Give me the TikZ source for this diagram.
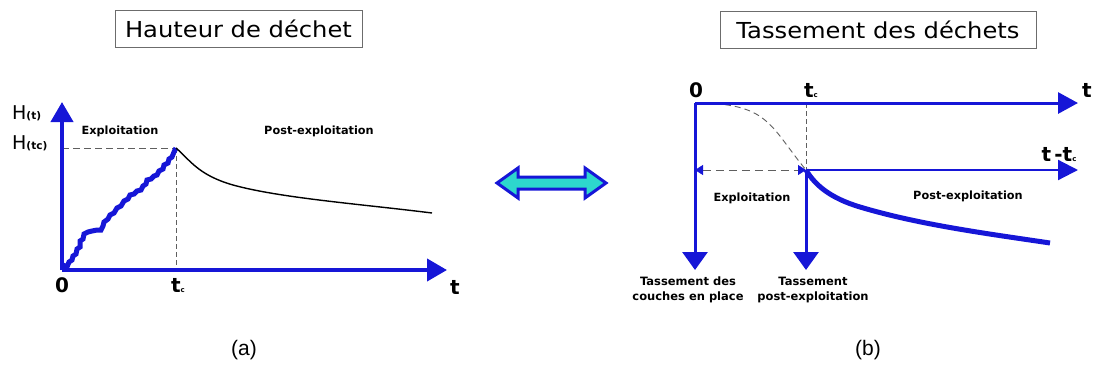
\documentclass[tikz,border=0pt]{standalone}
\usepackage{fontspec}
\setmainfont{DejaVu Sans}
\newfontfamily\titlefont[FakeStretch=1.1]{DejaVu Sans}
\newfontfamily\capfont{Liberation Sans}
\usetikzlibrary{arrows.meta}
\definecolor{axisblue}{RGB}{22,22,215}
\definecolor{arrowcyan}{RGB}{45,215,205}
\definecolor{guidegray}{RGB}{95,95,95}

\begin{document}
\begin{tikzpicture}[x=1pt,y=-1pt,
  titlebox/.style={draw=gray!85!black, line width=0.9pt, inner sep=0pt,
    font=\titlefont\fontsize{22}{22}\selectfont},
  axis/.style={draw=axisblue, line width=4pt,
    -{Triangle[length=20pt,width=22pt]}},
  thinaxis/.style={draw=axisblue, line width=3pt,
    -{Triangle[length=20pt,width=21pt]}},
  downaxis/.style={draw=axisblue, line width=3pt,
    -{Triangle[length=18pt,width=25pt]}},
  guide/.style={draw=guidegray, line width=0.9pt, dash pattern=on 7pt off 4pt},
  vguide/.style={draw=guidegray, line width=0.7pt, dash pattern=on 5pt off 3pt},
  phase/.style={font=\bfseries\fontsize{11.3}{13}\selectfont, inner sep=0pt},
  tick/.style={font=\bfseries\fontsize{20}{20}\selectfont, inner sep=0pt},
  caption/.style={font=\capfont\fontsize{21}{21}\selectfont, inner sep=0pt},
]
\useasboundingbox (0,0) rectangle (1093,365);

% ---------- (a) Hauteur de dechet ----------
\node[titlebox, minimum width=247pt, minimum height=37pt] (titleA) at (238.5,29) {Hauteur de déchet};

\coordinate (Ao)  at (62,270);
\coordinate (Ay)  at (62,102);
\coordinate (Ax)  at (447,270);
\coordinate (Apk) at (176,148);
\coordinate (Ahy) at (62,148);
\coordinate (Atc) at (176,270);
\coordinate (Aend) at (432,213);

\draw[guide] (Ahy) -- (Apk);
\draw[vguide] (Apk) -- (Atc);

% waste height: irregular filling, then settlement after closure
\draw[axisblue, line width=5pt, line join=miter, miter limit=2]
  (Ao) -- (65,266) -- (67,267) -- (69,262) -- (72,260) -- (73,256) -- (76,254)
  -- (77,249) -- (80,247) -- (80,241) -- (83,239) -- (84,234) -- (88,232)
  -- (92,231) -- (97,230) -- (101,230) -- (103,226) -- (104,222) -- (108,219)
  -- (110,215) -- (114,213) -- (117,208) -- (121,206) -- (124,201) -- (128,199)
  -- (130,195) -- (134,194) -- (137,191) -- (141,190) -- (143,186) -- (146,184)
  -- (147,180) -- (151,179) -- (154,176) -- (157,175) -- (159,171) -- (163,169)
  -- (164,165) -- (168,163) -- (169,159) -- (172,157) -- (174,152) -- (Apk);
\draw[black, line width=1.4pt] (Apk)
  .. controls (190,160) and (198,175) .. (233,185)
  .. controls (280,198) and (360,204) .. (Aend);

\draw[axis] (Ao) -- (Ay);
\draw[axis] (Ao) -- (Ax);

\node[anchor=base west, inner sep=0pt] (Ht) at (12,119)
  {\fontsize{19}{19}\selectfont H\bfseries\fontsize{10.5}{10}\selectfont(t)};
\node[anchor=base west, inner sep=0pt] (Htc) at (12,149)
  {\fontsize{19}{19}\selectfont H\bfseries\fontsize{10.5}{10}\selectfont(tc)};
\node[tick, anchor=base] (zeroA) at (62,292) {0};
\node[tick, anchor=base] (tcA) at (178,292) {t{\fontsize{7}{7}\selectfont c}};
\node[tick, anchor=base] (tA) at (455,294) {t};
\node[phase] (exA) at (120,131) {Exploitation};
\node[phase] (postA) at (319,131) {Post-exploitation};
\node[caption] (capA) at (244,350) {(a)};

% ---------- equivalence arrow ----------
\draw[axisblue, fill=arrowcyan, line width=3pt, line join=miter]
  (497,183) -- (518,168) -- (518,177) -- (585,177) -- (585,168) -- (606,183)
  -- (585,198) -- (585,189) -- (518,189) -- (518,198) -- cycle;

% ---------- (b) Tassement des dechets ----------
\node[titlebox, minimum width=316pt, minimum height=37pt] (titleB) at (878,29.5) {Tassement des déchets};

\coordinate (Bo)  at (695,103);
\coordinate (Bt)  at (1078,103);
\coordinate (Btc) at (806,103);
\coordinate (Bc)  at (806,170);
\coordinate (Bl)  at (695,170);
\coordinate (Bx)  at (1078,170);
\coordinate (Bd1) at (695,270);
\coordinate (Bd2) at (806,270);
\coordinate (Bend) at (1050,243);

\draw[vguide] (Btc) -- (Bc);
\draw[guidegray, line width=0.9pt, dash pattern=on 6pt off 4pt]
  (Bo) .. controls (769,103) and (769,125) .. (Bc);
\draw[guidegray, line width=0.9pt, dash pattern=on 8pt off 5pt,
  {Triangle[length=8pt,width=10pt,color=axisblue]}-{Triangle[length=8pt,width=10pt,color=axisblue]}]
  (Bl) -- (Bc);

\draw[axisblue, line width=5pt] (Bc)
  .. controls (815,185) and (830,198) .. (860,207)
  .. controls (920,225) and (990,234) .. (Bend);

\draw[thinaxis] (Bo) -- (Bt);
\draw[axisblue, line width=2.2pt, -{Triangle[length=20pt,width=20pt]}] (Bc) -- (Bx);
\draw[downaxis] (Bo) -- (Bd1);
\draw[downaxis] (Bc) -- (Bd2);

\node[tick, anchor=base] (zeroB) at (696,97) {0};
\node[tick, anchor=base] (tcB) at (811,97) {t{\fontsize{7}{7}\selectfont c}};
\node[tick, anchor=base] (tB) at (1087,97) {t};
\node[tick, anchor=base] (ttcB) at (1059,161) {t\,-t{\fontsize{7}{7}\selectfont c}};
\node[phase] (exB) at (752,198) {Exploitation};
\node[phase] (postB) at (968,196) {Post-exploitation};
\node[phase, align=center, font=\bfseries\fontsize{11.5}{15}\selectfont] (setl1) at (688,290)
  {Tassement des\\couches en place};
\node[phase, align=center, font=\bfseries\fontsize{11.5}{15}\selectfont] (setl2) at (813,290)
  {Tassement\\post-exploitation};
\node[caption] (capB) at (868,350) {(b)};
\end{tikzpicture}
\end{document}
